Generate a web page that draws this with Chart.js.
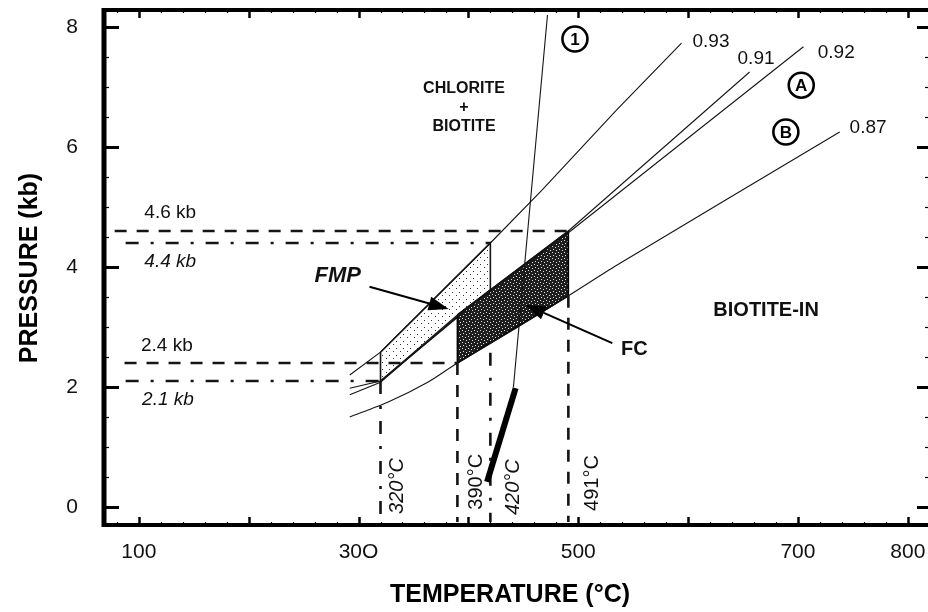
<!DOCTYPE html>
<html>
<head>
<meta charset="utf-8">
<script src="https://cdn.jsdelivr.net/npm/chart.js@4.4.1/dist/chart.umd.min.js"></script>
<style>
  html, body { margin: 0; padding: 0; overflow: hidden; background: #fff; }
  canvas { display: block; }
</style>
</head>
<body>
<canvas id="c" width="932" height="612"></canvas>
<script>
// ---- Data: temperature (°C) / pressure (kb) pairs ----
const xTickValues = [100, 300, 500, 700, 800];
const xTickLabels = ['100', '30O', '500', '700', '800'];
const yTickValues = [0, 2, 4, 6, 8];

// isopleth curves labelled by their end value
const t093 = [292, 320, 420, 467, 535, 594];
const p093 = [2.2, 2.58, 4.4, 5.28, 6.62, 7.73];
const t091 = [292, 320, 390, 491, 656];
const p091 = [1.98, 2.1, 3.2, 4.6, 7.25];
const t092 = [292, 320, 390, 491, 705];
const p092 = [1.87, 2.08, 3.18, 4.57, 7.67];
const t087 = [292, 327, 363, 390, 445, 491, 535, 738];
const p087 = [1.5, 1.75, 2.08, 2.4, 3.0, 3.52, 4.03, 6.25];

// reaction (1) and the heavy segment below it
const tReac1 = [472, 441];
const pReac1 = [8.2, 2.0];
const tHeavy = [443, 417];
const pHeavy = [1.98, 0.42];

// FMP and FC fields (closed polygons)
const tFMP = [320, 420, 420, 320, 320];
const pFMP = [2.58, 4.4, 3.62, 2.1, 2.58];
const tFC = [390, 491, 491, 390, 390];
const pFC = [3.2, 4.6, 3.52, 2.4, 3.2];

// pressure / temperature bounds of the fields
const pBounds = [4.6, 4.4, 2.4, 2.1];
const pBoundStart = [78, 88, 87, 88];
const pBoundEnd = [491, 420, 390, 320];
const tBounds = [320, 390, 420, 491];
const tBoundTop = [2.1, 2.4, 2.57, 3.52];
const pAxisFloor = -0.25;

const pts = (ts, ps) => ts.map((t, i) => ({ x: t, y: ps[i] }));

function pattern(size, bg, dots, dotColor) {
  const c = document.createElement('canvas');
  c.width = c.height = size;
  const g = c.getContext('2d');
  g.fillStyle = bg; g.fillRect(0, 0, size, size);
  g.fillStyle = dotColor;
  dots.forEach(([dx, dy]) => g.fillRect(dx, dy, 1, 1));
  return g.createPattern(c, 'repeat');
}
const fmpFill = pattern(7, '#ffffff', [[1, 1], [4, 5]], '#333');
const fcFill = pattern(6, '#1e1e1e', [[0, 0], [3, 1], [1, 3], [4, 4]], '#e0e0e0');

const INK = '#151515';
const DASH = [12, 10];
const DASHDOT = [13, 12, 3, 12];

const datasets = [
  { data: pts(tFMP, pFMP), fill: 'shape', backgroundColor: fmpFill, borderColor: INK, borderWidth: 1.6, order: 20 },
  { data: pts(tFC, pFC), fill: 'shape', backgroundColor: fcFill, borderColor: '#000', borderWidth: 1.6, order: 19 },
  { data: pts(t093, p093), borderWidth: 1.1, order: 5 },
  { data: pts(t091, p091), borderWidth: 1.1, order: 5 },
  { data: pts(t092, p092), borderWidth: 1.1, order: 5 },
  { data: pts(t087, p087), borderWidth: 1.1, tension: 0.25, order: 5 },
  { data: pts(tReac1, pReac1), borderWidth: 1.1, order: 5 },
  { data: pts(tHeavy, pHeavy), borderWidth: 6, borderColor: '#000', order: 4 },
];
pBounds.forEach((p, i) => {
  datasets.push({
    data: [{ x: pBoundStart[i], y: p }, { x: pBoundEnd[i], y: p }],
    borderWidth: 2.6, borderDash: (i % 2 === 0) ? DASH : DASHDOT, order: 6
  });
});
tBounds.forEach((t, i) => {
  datasets.push({
    data: [{ x: t, y: tBoundTop[i] }, { x: t, y: pAxisFloor }],
    borderWidth: 2.6, borderDash: (i === 1 || i === 3) ? DASH : DASHDOT, order: 6
  });
});

// ---- text and marks placed in data units ----
const FONT = '"Liberation Sans", Arial, sans-serif';
const notes = [
  { text: 'CHLORITE', x: 396, y: 6.98, font: 'bold 16px', align: 'center' },
  { text: '+', x: 396, y: 6.66, font: 'bold 16px', align: 'center' },
  { text: 'BIOTITE', x: 396, y: 6.34, font: 'bold 16px', align: 'center' },
  { text: 'BIOTITE-IN', x: 671, y: 3.28, font: 'bold 20px', align: 'center' },
  { text: 'FC', x: 539, y: 2.62, font: 'bold 20px', align: 'left' },
  { text: 'FMP', x: 260, y: 3.85, font: 'italic bold 22px', align: 'left' },
  { text: '4.6 kb', x: 105, y: 4.9, font: '19px', align: 'left' },
  { text: '4.4 kb', x: 105, y: 4.08, font: 'italic 19px', align: 'left' },
  { text: '2.4 kb', x: 102, y: 2.68, font: '19px', align: 'left' },
  { text: '2.1 kb', x: 103, y: 1.78, font: 'italic 19px', align: 'left' },
  { text: '0.93', x: 604, y: 7.75, font: '19px', align: 'left' },
  { text: '0.91', x: 645, y: 7.47, font: '19px', align: 'left' },
  { text: '0.92', x: 718, y: 7.57, font: '19px', align: 'left' },
  { text: '0.87', x: 747, y: 6.32, font: '19px', align: 'left' },
  { text: '320°C', x: 335, y: 0.35, font: 'italic 20px', align: 'center', rot: true },
  { text: '390°C', x: 407, y: 0.42, font: '20px', align: 'center', rot: true },
  { text: '420°C', x: 441, y: 0.33, font: 'italic 20px', align: 'center', rot: true },
  { text: '491°C', x: 513, y: 0.40, font: '20px', align: 'center', rot: true },
];
const badges = [
  { text: '1', x: 497, y: 7.8 },
  { text: 'A', x: 703, y: 7.03 },
  { text: 'B', x: 689, y: 6.25 },
];
const arrows = [
  { from: [310, 3.67], to: [382, 3.3] },
  { from: [531, 2.73], to: [452, 3.37] },
];

function drawArrow(ctx, x1, y1, x2, y2) {
  const ang = Math.atan2(y2 - y1, x2 - x1);
  const L = 20, W = 7;
  const bx = x2 - L * Math.cos(ang), by = y2 - L * Math.sin(ang);
  ctx.beginPath();
  ctx.moveTo(x1, y1); ctx.lineTo(bx, by);
  ctx.lineWidth = 2; ctx.strokeStyle = '#000'; ctx.stroke();
  ctx.beginPath();
  ctx.moveTo(x2, y2);
  ctx.lineTo(bx + W * Math.sin(ang), by - W * Math.cos(ang));
  ctx.lineTo(bx - W * Math.sin(ang), by + W * Math.cos(ang));
  ctx.closePath(); ctx.fillStyle = '#000'; ctx.fill();
}

const frame = {
  id: 'frame',
  afterDatasetsDraw(chart) {
    const { ctx, chartArea: a, scales: { x, y } } = chart;
    ctx.save();
    // outer frame
    ctx.strokeStyle = '#000';
    ctx.lineWidth = 5; ctx.beginPath(); ctx.moveTo(a.left, a.top - 2); ctx.lineTo(a.left, a.bottom + 2); ctx.stroke();
    ctx.lineWidth = 4; ctx.beginPath(); ctx.moveTo(a.left, a.bottom); ctx.lineTo(a.right, a.bottom); ctx.stroke();
    ctx.beginPath(); ctx.moveTo(a.left, a.top); ctx.lineTo(a.right, a.top); ctx.stroke();
    ctx.lineWidth = 3; ctx.beginPath(); ctx.moveTo(a.right, a.top); ctx.lineTo(a.right, a.bottom); ctx.stroke();

    // pressure ticks (left and right, pointing inward)
    for (let v = 0; v <= 8.001; v += 0.5) {
      const py = Math.round(y.getPixelForValue(v)) + 0.5;
      const major = Math.abs(v - Math.round(v / 2) * 2) < 1e-6;
      ctx.lineWidth = major ? 3 : 1.2;
      ctx.beginPath(); ctx.moveTo(a.left, py); ctx.lineTo(a.left + (major ? 15 : 5), py); ctx.stroke();
      ctx.beginPath(); ctx.moveTo(a.right, py); ctx.lineTo(a.right - (major ? 13 : 5), py); ctx.stroke();
    }
    // temperature ticks (bottom and top, pointing inward)
    for (let v = 80; v <= 816; v += 20) {
      const px = Math.round(x.getPixelForValue(v)) + 0.5;
      const major = v % 100 === 0;
      ctx.lineWidth = major ? 2.5 : 1.2;
      const len = major ? 8 : 3;
      ctx.beginPath(); ctx.moveTo(px, a.bottom); ctx.lineTo(px, a.bottom - len); ctx.stroke();
      ctx.beginPath(); ctx.moveTo(px, a.top); ctx.lineTo(px, a.top + len); ctx.stroke();
    }

    // arrows
    arrows.forEach(ar => drawArrow(ctx,
      x.getPixelForValue(ar.from[0]), y.getPixelForValue(ar.from[1]),
      x.getPixelForValue(ar.to[0]), y.getPixelForValue(ar.to[1])));

    // text notes
    ctx.fillStyle = '#111';
    ctx.textBaseline = 'middle';
    notes.forEach(n => {
      ctx.font = n.font + ' ' + FONT;
      ctx.textAlign = n.align;
      const px = x.getPixelForValue(n.x), py = y.getPixelForValue(n.y);
      if (n.rot) {
        ctx.save(); ctx.translate(px, py); ctx.rotate(-Math.PI / 2);
        ctx.fillText(n.text, 0, 0); ctx.restore();
      } else {
        ctx.fillText(n.text, px, py);
      }
    });

    // circled labels
    badges.forEach(b => {
      const px = x.getPixelForValue(b.x), py = y.getPixelForValue(b.y);
      ctx.beginPath(); ctx.arc(px, py, 12.5, 0, Math.PI * 2);
      ctx.lineWidth = 2.6; ctx.strokeStyle = '#000'; ctx.stroke();
      ctx.font = 'bold 17px ' + FONT; ctx.textAlign = 'center'; ctx.fillStyle = '#000';
      ctx.fillText(b.text, px, py + 1);
    });

    // axis titles
    ctx.font = 'bold 25px ' + FONT;
    ctx.textAlign = 'center';
    ctx.fillText('TEMPERATURE (°C)', 510, 595);
    ctx.save(); ctx.translate(30, 268); ctx.rotate(-Math.PI / 2);
    ctx.fillText('PRESSURE (kb)', 0, 0); ctx.restore();
    ctx.restore();
  }
};

// keep the plot box fixed regardless of label sizes
function fixBox(s, w, h) {
  if (w !== null) s.width = w;
  if (h !== null) s.height = h;
  s.paddingTop = 0; s.paddingBottom = 0; s.paddingLeft = 0; s.paddingRight = 0;
}

new Chart(document.getElementById('c'), {
  type: 'line',
  data: { datasets },
  options: {
    responsive: false,
    animation: false,
    events: [],
    layout: { padding: { top: 10, right: 2, bottom: 0, left: 0 } },
    elements: {
      point: { radius: 0 },
      line: { borderColor: INK, borderWidth: 1.1, tension: 0, fill: false, borderCapStyle: 'butt' }
    },
    plugins: { legend: { display: false }, tooltip: { enabled: false } },
    scales: {
      x: {
        type: 'linear', min: 68.3, max: 820.2,
        grid: { display: false }, border: { display: false },
        afterFit: s => fixBox(s, null, 87),
        afterBuildTicks: s => { s.ticks = xTickValues.map(v => ({ value: v })); },
        ticks: {
          padding: 7, color: '#111', maxRotation: 0, autoSkip: false,
          font: { family: FONT, size: 21 },
          callback: v => xTickLabels[xTickValues.indexOf(v)]
        }
      },
      y: {
        type: 'linear', min: -0.3, max: 8.283,
        grid: { display: false }, border: { display: false },
        afterFit: s => fixBox(s, 104, null),
        afterBuildTicks: s => { s.ticks = yTickValues.map(v => ({ value: v })); },
        ticks: {
          padding: 18, color: '#111',
          font: { family: FONT, size: 21 },
          callback: v => String(v)
        }
      }
    }
  },
  plugins: [frame]
});
</script>
</body>
</html>
